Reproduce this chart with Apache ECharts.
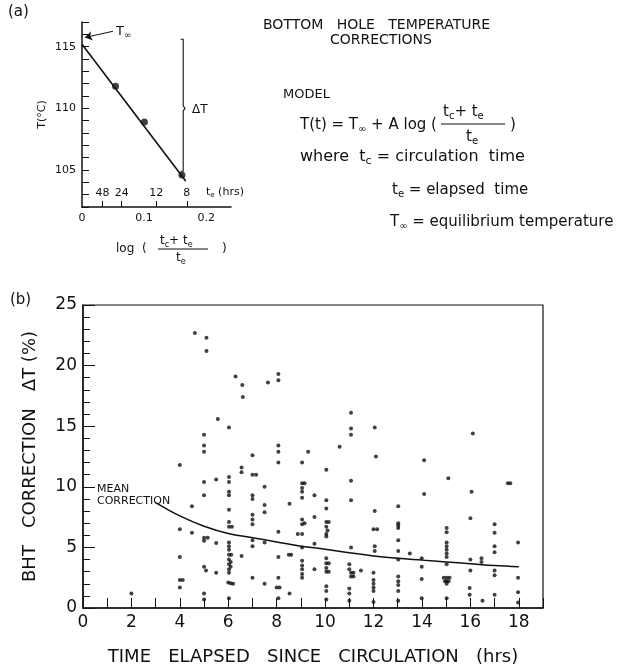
<!DOCTYPE html>
<html>
<head>
<meta charset="utf-8">
<script src="https://cdn.jsdelivr.net/npm/echarts@6/dist/echarts.min.js"></script>
<style>
  html, body { margin: 0; padding: 0; background: #fff; }
  #chart { width: 631px; height: 668px; }
</style>
</head>
<body>
<div id="chart"></div>
<script>
// (a) Horner-type plot
var logRatio = [0.054, 0.1005, 0.161];
var tempC = [111.8, 108.9, 104.6];
var fitLog = [0, 0.167];
var fitTemp = [115.2, 104.1];
var teHours = [48, 24, 12, 8];
var tcHours = 3.8;
var bracketLog = [0.159, 0.163, 0.163, 0.166, 0.163, 0.163, 0.159];
var bracketTemp = [115.6, 115.6, 110.2, 110, 109.8, 104.9, 104.9];

// (b) BHT corrections, [hrs, %]
var bhtPoints = [
  [2.0, 1.2],
  [4.0, 11.8], [4.0, 6.5], [4.0, 4.2], [4.0, 2.3], [4.12, 2.3], [4.0, 1.7],
  [4.5, 8.4], [4.5, 6.2], [4.62, 22.7],
  [5.1, 22.3], [5.1, 21.2], [5.0, 14.3], [5.0, 13.4], [5.0, 12.9], [5.0, 10.4], [5.0, 9.3],
  [5.0, 5.8], [5.15, 5.8], [5.0, 5.55], [5.0, 3.4], [5.08, 3.1], [5.0, 1.2], [5.0, 0.7],
  [5.57, 15.6], [5.5, 10.6], [5.5, 5.36], [5.5, 2.9],
  [6.03, 14.9], [6.03, 10.8], [6.03, 10.4], [6.03, 9.6], [6.03, 9.3], [6.03, 8.1], [6.03, 7.1],
  [6.03, 6.7], [6.15, 6.7], [6.03, 5.4], [6.03, 5.1], [6.03, 4.8], [6.03, 4.4], [6.12, 4.4],
  [6.03, 4.0], [6.1, 3.8], [6.03, 3.6], [6.1, 3.4], [6.03, 3.2], [6.03, 2.9], [6.0, 2.1],
  [6.1, 2.05], [6.2, 2.0], [6.03, 0.8],
  [6.3, 19.1], [6.58, 18.4], [6.6, 17.4], [6.55, 11.6], [6.55, 11.2], [6.55, 4.3],
  [7.0, 12.6], [7.0, 11.0], [7.15, 11.0], [7.0, 9.3], [7.0, 9.0], [7.0, 7.7], [7.0, 7.3],
  [7.0, 6.9], [7.0, 5.6], [7.0, 5.1], [7.0, 2.5],
  [7.5, 10.0], [7.5, 8.5], [7.5, 7.9], [7.5, 5.4], [7.5, 2.0], [7.64, 18.6],
  [8.07, 19.3], [8.07, 18.8], [8.07, 13.4], [8.07, 12.9], [8.07, 12.0], [8.07, 6.3],
  [8.07, 4.2], [8.07, 2.5], [8.0, 1.7], [8.12, 1.7], [8.07, 0.8],
  [8.53, 8.6], [8.5, 4.4], [8.6, 4.4], [8.53, 1.2], [8.87, 6.1],
  [9.05, 12.0], [9.05, 10.3], [9.15, 10.3], [9.05, 9.9], [9.05, 9.6], [9.05, 9.1], [9.05, 7.3],
  [9.15, 7.0], [9.05, 6.9], [9.05, 6.1], [9.05, 5.0], [9.05, 3.9], [9.05, 3.5], [9.05, 3.2],
  [9.05, 2.8], [9.05, 2.5],
  [9.3, 12.9], [9.56, 9.3], [9.56, 7.5], [9.56, 5.3], [9.56, 3.2],
  [10.05, 11.4], [10.05, 8.9], [10.05, 8.2], [10.05, 7.1], [10.15, 7.1], [10.05, 6.7], [10.1, 6.4],
  [10.05, 6.1], [10.05, 5.9], [10.05, 4.1], [10.05, 3.7], [10.15, 3.7], [10.05, 3.3], [10.05, 3.0],
  [10.15, 3.0], [10.05, 1.8], [10.05, 1.4], [10.05, 0.7],
  [10.6, 13.3],
  [11.07, 16.1], [11.07, 14.8], [11.07, 14.3], [11.07, 10.5], [11.07, 8.9], [11.07, 5.0],
  [11.0, 3.6], [11.0, 3.2], [11.07, 2.9], [11.17, 2.9], [11.07, 2.6], [11.17, 2.6], [11.0, 1.6],
  [11.0, 1.2], [11.0, 0.6], [11.48, 3.1],
  [12.05, 14.9], [12.1, 12.5], [12.05, 8.0], [12.0, 6.5], [12.15, 6.5], [12.05, 5.1], [12.05, 4.7],
  [12.0, 2.9], [12.0, 2.3], [12.0, 2.0], [12.0, 1.7], [12.0, 1.4], [12.0, 0.5],
  [13.02, 8.4], [13.02, 7.0], [13.02, 6.8], [13.02, 6.6], [13.02, 5.6], [13.02, 4.7], [13.02, 4.0],
  [13.02, 2.6], [13.02, 2.2], [13.02, 1.9], [13.02, 1.4], [13.02, 0.6], [13.5, 4.5],
  [13.99, 4.1], [13.99, 3.4], [13.99, 2.4], [13.99, 0.8], [14.09, 12.2], [14.09, 9.4],
  [15.09, 10.7], [15.02, 6.6], [15.02, 6.25], [15.02, 5.4], [15.02, 5.1], [15.02, 4.8], [15.02, 4.5],
  [15.02, 4.2], [15.02, 3.6], [14.9, 2.5], [15.02, 2.5], [15.14, 2.5], [14.95, 2.2], [15.02, 2.2],
  [15.1, 2.2], [15.02, 2.0], [15.02, 0.8],
  [16.1, 14.4], [16.05, 9.6], [16.0, 7.4], [16.0, 4.0], [16.0, 3.1], [15.97, 1.65], [15.97, 1.1],
  [16.46, 4.1], [16.46, 3.8], [16.5, 0.6],
  [17.0, 6.9], [17.0, 6.2], [17.0, 5.1], [17.0, 4.6], [17.0, 3.1], [17.0, 2.7], [17.0, 1.1],
  [17.55, 10.3], [17.65, 10.3],
  [17.97, 5.4], [17.97, 2.5], [17.97, 1.3], [17.97, 0.45]
];
var meanHrs = [3, 4, 5, 6, 7, 8, 9, 10, 11, 12, 13, 14, 15, 16, 17, 18];
var meanCorr = [8.7, 7.6, 6.75, 6.15, 5.8, 5.45, 5.1, 4.85, 4.55, 4.3, 4.1, 3.95, 3.8, 3.65, 3.5, 3.4];

var FONT = 'DejaVu Sans';
var INK = '#111';

// t_e scale positions on the log axis
var tePos = teHours.map(function (te) { return Math.log10((tcHours + te) / te); });

function pairs(xs, ys) {
  var out = [];
  for (var i = 0; i < xs.length; i++) out.push([xs[i], ys[i]]);
  return out;
}

// rich text with subscripts
var richSub = function (size) {
  return {
    n: { fontSize: size, fontFamily: FONT, fill: INK },
    s: { fontSize: Math.round(size * 0.68), fontFamily: FONT, fill: INK, padding: [Math.round(size * 0.55), 0, 0, 0] }
  };
};
function txt(x, y, text, size, extra) {
  var st = { text: text, fontSize: size, fontFamily: FONT, fill: INK, rich: richSub(size), verticalAlign: 'middle' };
  if (extra) for (var k in extra) st[k] = extra[k];
  return { type: 'text', x: x, y: y, style: st, z: 10 };
}
function hline(x1, x2, y) {
  return { type: 'line', shape: { x1: x1, y1: y, x2: x2, y2: y }, style: { stroke: INK, lineWidth: 1 }, z: 10 };
}

var myChart = echarts.init(document.getElementById('chart'), null, { renderer: 'canvas' });

var option = {
  backgroundColor: '#fff',
  animation: false,
  textStyle: { fontFamily: FONT, color: INK },
  grid: [
    { left: 82, top: 22, width: 149, height: 185, show: false },
    { left: 83, top: 305, width: 460, height: 303, show: true, borderColor: INK, borderWidth: 1.2, backgroundColor: 'transparent' }
  ],
  xAxis: [
    {
      gridIndex: 0, type: 'value', min: 0, max: 0.24, interval: 0.1,
      axisLine: { lineStyle: { color: INK, width: 1.5 } },
      axisTick: { show: false },
      splitLine: { show: false },
      axisLabel: {
        color: INK, fontSize: 11, fontFamily: FONT, margin: 6,
        formatter: function (v) {
          if (v > 0.21) return '';
          return v === 0 ? '0' : v.toFixed(1);
        }
      }
    },
    {
      gridIndex: 0, type: 'value', min: 0, max: 0.24, position: 'bottom',
      axisLine: { show: false },
      splitLine: { show: false },
      axisTick: { show: true, inside: true, length: 6, customValues: tePos, lineStyle: { color: INK } },
      axisLabel: {
        inside: true, margin: 8, color: INK, fontSize: 11, fontFamily: FONT,
        customValues: tePos,
        formatter: function (v) {
          for (var i = 0; i < tePos.length; i++) {
            if (Math.abs(tePos[i] - v) < 1e-6) return String(teHours[i]);
          }
          return '';
        }
      }
    },
    {
      gridIndex: 1, type: 'value', min: 0, max: 19, interval: 2,
      name: 'TIME   ELAPSED   SINCE   CIRCULATION   (hrs)',
      nameLocation: 'middle', nameGap: 40,
      nameTextStyle: { fontSize: 18, fontFamily: FONT, color: INK },
      axisLine: { lineStyle: { color: INK, width: 1.5 } },
      axisTick: { inside: true, length: 10, lineStyle: { color: INK } },
      minorTick: { show: true, splitNumber: 2, length: 10, lineStyle: { color: INK } },
      splitLine: { show: false },
      axisLabel: {
        color: INK, fontSize: 17, fontFamily: FONT, margin: 6,
        formatter: function (v) { return v > 18 ? '' : String(v); }
      }
    }
  ],
  yAxis: [
    {
      gridIndex: 0, type: 'value', min: 102, max: 117, interval: 1,
      name: 'T(°C)', nameLocation: 'middle', nameGap: 34, nameRotate: 90,
      nameTextStyle: { fontSize: 11, fontFamily: FONT, color: INK },
      axisLine: { lineStyle: { color: INK, width: 1.5 } },
      axisTick: { inside: true, length: 7, lineStyle: { color: INK } },
      splitLine: { show: false },
      axisLabel: {
        color: INK, fontSize: 11, fontFamily: FONT, margin: 6,
        formatter: function (v) { return (v % 5 === 0 && v >= 105) ? String(v) : ''; }
      }
    },
    {
      gridIndex: 1, type: 'value', min: 0, max: 25, interval: 5,
      name: 'BHT   CORRECTION   ΔT (%)', nameLocation: 'middle', nameGap: 44, nameRotate: 90,
      nameTextStyle: { fontSize: 18, fontFamily: FONT, color: INK },
      axisLine: { lineStyle: { color: INK, width: 1.5 } },
      axisTick: { inside: true, length: 12, lineStyle: { color: INK } },
      minorTick: { show: true, splitNumber: 5, length: 7, lineStyle: { color: INK } },
      splitLine: { show: false },
      axisLabel: { color: INK, fontSize: 17, fontFamily: FONT, margin: 6 }
    }
  ],
  series: [
    {
      name: 'fit', type: 'line', xAxisIndex: 0, yAxisIndex: 0,
      data: pairs(fitLog, fitTemp), symbol: 'none',
      lineStyle: { color: INK, width: 1.6 },
      markLine: {
        silent: true, symbol: ['none', 'arrow'], symbolSize: 7,
        label: { show: false },
        lineStyle: { color: INK, width: 1, type: 'solid' },
        data: [[{ coord: [0.05, 116.25] }, { coord: [0.005, 115.75] }]]
      }
    },
    {
      name: 'obs', type: 'scatter', xAxisIndex: 0, yAxisIndex: 0,
      data: pairs(logRatio, tempC), symbol: 'circle', symbolSize: 7,
      itemStyle: { color: INK }
    },
    {
      name: 'deltaT', type: 'line', xAxisIndex: 0, yAxisIndex: 0,
      data: pairs(bracketLog, bracketTemp), symbol: 'none',
      lineStyle: { color: INK, width: 1.1 }
    },
    {
      name: 'bht', type: 'scatter', xAxisIndex: 2, yAxisIndex: 1,
      data: bhtPoints, symbol: 'circle', symbolSize: 4,
      itemStyle: { color: INK }
    },
    {
      name: 'mean', type: 'line', xAxisIndex: 2, yAxisIndex: 1,
      data: pairs(meanHrs, meanCorr), smooth: 0.4, symbol: 'none',
      lineStyle: { color: INK, width: 1.5 }
    }
  ],
  graphic: [
    txt(8, 12, '(a)', 15),
    txt(10, 300, '(b)', 15),
    // panel (a) annotations
    txt(116, 32, '{n|T}{s|∞}', 13),
    txt(192, 110, 'ΔT', 12),
    txt(206, 192, '{n|t}{s|e}{n| (hrs)}', 11),
    txt(116, 249, '{n|log  (}', 12),
    txt(160, 241, '{n|t}{s|c}{n|+ t}{s|e}', 12),
    hline(158, 208, 249),
    txt(176, 258, '{n|t}{s|e}', 12),
    txt(222, 249, '{n|)}', 12),
    // model text
    txt(263, 25, 'BOTTOM   HOLE   TEMPERATURE', 14),
    txt(330, 40, 'CORRECTIONS', 14),
    txt(283, 95, 'MODEL', 13),
    txt(300, 125, '{n|T(t) = T}{s|∞}{n| + A log (}', 15),
    txt(443, 112, '{n|t}{s|c}{n|+ t}{s|e}', 15),
    hline(441, 505, 124),
    txt(466, 137, '{n|t}{s|e}', 15),
    txt(510, 125, '{n|)}', 15),
    txt(300, 157, '{n|where  t}{s|c}{n| = circulation  time}', 16),
    txt(392, 190, '{n|t}{s|e}{n| = elapsed  time}', 15),
    txt(390, 222, '{n|T}{s|∞}{n| = equilibrium temperature}', 15),
    // panel (b) label
    txt(97, 489, 'MEAN', 11),
    txt(97, 501, 'CORRECTION', 11)
  ]
};

myChart.setOption(option);
</script>
</body>
</html>
